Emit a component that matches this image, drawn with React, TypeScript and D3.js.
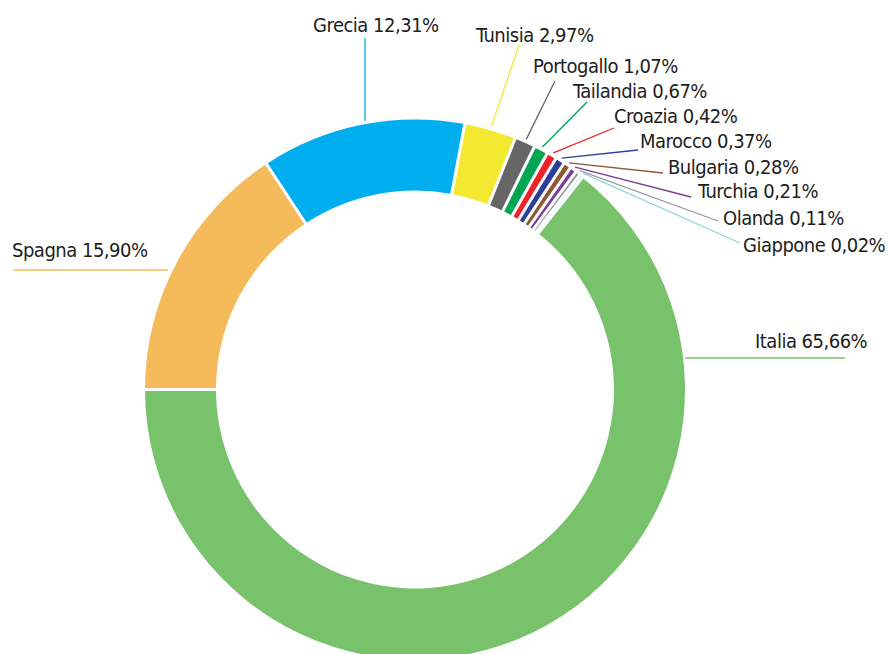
import React from "react";
import * as d3 from "d3";

const countries = ["Italia", "Spagna", "Grecia", "Tunisia", "Portogallo", "Tailandia", "Croazia", "Marocco", "Bulgaria", "Turchia", "Olanda", "Giappone"];
const shares = [65.66, 15.9, 12.31, 2.97, 1.07, 0.67, 0.42, 0.37, 0.28, 0.21, 0.11, 0.02];
const colors = ["#77c26a", "#f5bb5a", "#00adee", "#f4e930", "#666666", "#00a651", "#ee2229", "#2b3f98", "#8c5a33", "#7d3c98", "#999999", "#8ed6dd"];

// label layout (annotation placement): text anchor point and leader end
const labelText = [
  [755, 348], [12, 257], [313, 32], [476, 42], [533, 73], [573, 98], [614, 123], [640, 148], [668, 174], [698, 198], [723, 225], [743, 252],
];
const leaderEnds = [
  [845, 358], [13, 270], [365, 38], [519, 45], [555, 81], [587, 102], [614, 128], [638, 150], [663, 173], [691, 197], [718, 221], [740, 243],
];

const W = 888, H = 654;
const cx = 415, cy = 389.5, R = 270, r0 = 199;
const PAD = (0.68 * Math.PI) / 180;

function fmt(v: number) {
  return v.toFixed(2).replace(".", ",") + "%";
}

export default function App() {
  const data = countries.map((c, i) => ({ name: c, value: shares[i], color: colors[i], i }));
  const total = d3.sum(shares);
  const n = shares.length;
  const italiaSpan = (shares[0] / total) * (2 * Math.PI - n * PAD) + PAD;
  const start = (3 * Math.PI) / 2 - italiaSpan;
  const pie = d3
    .pie<any>()
    .sort(null)
    .value((d) => d.value)
    .startAngle(start)
    .endAngle(start + 2 * Math.PI)
    .padAngle(PAD);
  const arcs = pie(data);
  const arc = d3.arc<any>().innerRadius(r0).outerRadius(R).padRadius(3 / PAD);

  const leaderStart = (a: any, i: number) => {
    const [ex, ey] = leaderEnds[i];
    if (i === 0 || i === 1) {
      const dy = ey - cy;
      const dx = Math.sqrt(R * R - dy * dy);
      const sx = i === 0 ? cx + dx + 2 : cx - dx - 5;
      return [sx, ey];
    }
    const m = (a.startAngle + a.endAngle) / 2;
    const rr = R + 4;
    return [cx + rr * Math.sin(m), cy - rr * Math.cos(m)];
  };

  return (
    <svg width={W} height={H} style={{ position: "absolute", left: 0, top: 0 }}>
      <rect width={W} height={H} fill="#fff" />
      <g transform={`translate(${cx},${cy})`}>
        {arcs.map((a, i) => (
          <path key={i} d={arc(a) as string} fill={a.data.color} />
        ))}
      </g>
      {arcs.map((a, i) => {
        const [sx, sy] = leaderStart(a, i);
        const [ex, ey] = leaderEnds[i];
        return (
          <line key={"l" + i} x1={i === 2 ? ex : sx} y1={sy} x2={ex} y2={ey} stroke={a.data.color} strokeWidth={1.3} />
        );
      })}
      {arcs.map((a, i) => (
        <text
          key={"t" + i}
          x={labelText[i][0]}
          y={labelText[i][1]}
          fontFamily="'DejaVu Sans Condensed', 'DejaVu Sans', sans-serif"
          fontStretch="condensed"
          fontSize={20}
          letterSpacing={-0.5}
          fill="#1d1d1b"
        >
          {a.data.name + " " + fmt(a.data.value)}
        </text>
      ))}
    </svg>
  );
}
